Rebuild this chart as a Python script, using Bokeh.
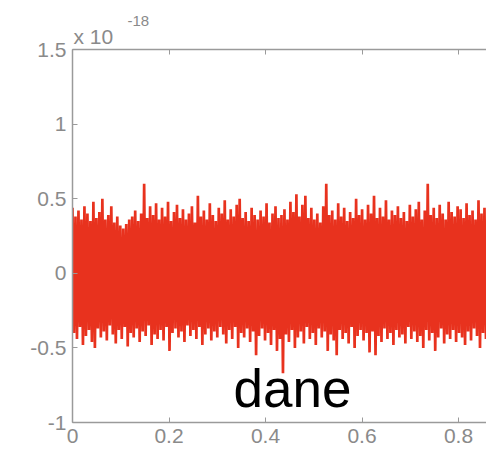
import numpy as np
from bokeh.plotting import figure
from bokeh.models import FixedTicker, LinearAxis, Label, Range1d, Title
from bokeh.embed import file_html
from bokeh.resources import INLINE

# upper peaks of the noisy signal (units of 1e-18)
peaks = [0.44, 0.38, 0.42, 0.36, 0.45, 0.40, 0.35, 0.48, 0.37, 0.41,
         0.50, 0.36, 0.39, 0.45, 0.34, 0.38, 0.32, 0.30, 0.33, 0.36,
         0.38, 0.42, 0.35, 0.40, 0.60, 0.37, 0.45, 0.39, 0.47, 0.36,
         0.44, 0.38, 0.48, 0.35, 0.41, 0.46, 0.37, 0.43, 0.36, 0.40,
         0.45, 0.34, 0.52, 0.38, 0.42, 0.36, 0.47, 0.39, 0.35, 0.44,
         0.40, 0.49, 0.36, 0.43, 0.38, 0.46, 0.50, 0.37, 0.41, 0.35,
         0.44, 0.39, 0.36, 0.42, 0.38, 0.47, 0.34, 0.40, 0.45, 0.37,
         0.39, 0.43, 0.36, 0.48, 0.41, 0.53, 0.38, 0.46, 0.52, 0.37,
         0.44, 0.36, 0.40, 0.34, 0.45, 0.60, 0.39, 0.42, 0.36, 0.47,
         0.38, 0.44, 0.35, 0.41, 0.37, 0.50, 0.39, 0.43, 0.36, 0.46,
         0.40, 0.52, 0.37, 0.44, 0.38, 0.49, 0.36, 0.42, 0.39, 0.45,
         0.37, 0.41, 0.35, 0.46, 0.38, 0.43, 0.48, 0.36, 0.42, 0.60,
         0.39, 0.44, 0.37, 0.46, 0.40, 0.36, 0.48, 0.41, 0.38, 0.45,
         0.43, 0.37, 0.47, 0.39, 0.42, 0.36, 0.49, 0.40, 0.44, 0.38]

# lower troughs of the noisy signal (units of 1e-18)
troughs = [-0.40, -0.44, -0.36, -0.48, -0.42, -0.38, -0.46, -0.50, -0.37, -0.43,
           -0.39, -0.45, -0.35, -0.41, -0.47, -0.38, -0.44, -0.36, -0.49, -0.40,
           -0.43, -0.37, -0.46, -0.39, -0.42, -0.35, -0.48, -0.41, -0.44, -0.38,
           -0.45, -0.36, -0.52, -0.40, -0.37, -0.43, -0.39, -0.46, -0.35, -0.42,
           -0.38, -0.44, -0.36, -0.48, -0.41, -0.37, -0.45, -0.39, -0.43, -0.36,
           -0.41, -0.47, -0.38, -0.44, -0.36, -0.50, -0.40, -0.43, -0.37, -0.46,
           -0.39, -0.55, -0.42, -0.37, -0.45, -0.40, -0.48, -0.38, -0.52, -0.44,
           -0.67, -0.41, -0.46, -0.38, -0.50, -0.43, -0.39, -0.47, -0.36, -0.44,
           -0.40, -0.48, -0.37, -0.43, -0.39, -0.52, -0.41, -0.45, -0.55, -0.38,
           -0.44, -0.40, -0.47, -0.36, -0.50, -0.42, -0.38, -0.45, -0.40, -0.53,
           -0.39, -0.55, -0.42, -0.46, -0.37, -0.44, -0.40, -0.48, -0.38, -0.43,
           -0.41, -0.47, -0.36, -0.44, -0.39, -0.46, -0.42, -0.50, -0.38, -0.45,
           -0.40, -0.52, -0.43, -0.37, -0.47, -0.41, -0.44, -0.38, -0.46, -0.40,
           -0.43, -0.48, -0.39, -0.45, -0.37, -0.42, -0.50, -0.40, -0.44, -0.38]

x_start, x_stop = 0.0, 0.86
x_ticks = [0, 0.2, 0.4, 0.6, 0.8]
x_tick_labels = ["0", "0.2", "0.4", "0.6", "0.8"]
y_ticks = [-1, -0.5, 0, 0.5, 1, 1.5]
y_tick_labels = ["-1", "-0.5", "0", "0.5", "1", "1.5"]
exponent_text = "x 10"
exponent_power = "-18"
annotation_text = "dane"

n = len(peaks)
xp = np.linspace(x_start, x_stop, n)
dx = xp[1] - xp[0]
xt = xp + dx / 2
xs = np.empty(2 * n)
ys = np.empty(2 * n)
xs[0::2] = xp
xs[1::2] = xt
ys[0::2] = peaks
ys[1::2] = troughs

AX = "#9a9a9a"
LAB = "#8a8a8a"
FONT = "Liberation Sans"

p = figure(width=486, height=456, output_backend="svg", toolbar_location=None,
           x_range=Range1d(0, 0.858), y_range=Range1d(-1, 1.5),
           min_border_left=72, min_border_right=0, min_border_top=49,
           min_border_bottom=34, background_fill_color="white",
           border_fill_color="white", outline_line_color=None)
p.grid.visible = False

p.line(xs, ys, line_color="#e8321e", line_width=2.7)

for ax in (p.xaxis[0], p.yaxis[0]):
    ax.axis_line_color = AX
    ax.axis_line_width = 1.5
    ax.major_tick_line_color = AX
    ax.major_tick_in = 5
    ax.major_tick_out = 0
    ax.minor_tick_line_color = None
    ax.major_label_text_color = LAB
    ax.major_label_text_font = FONT
    ax.major_label_text_font_size = "21px"

p.xaxis[0].ticker = FixedTicker(ticks=x_ticks)
p.xaxis[0].major_label_overrides = dict(zip(x_ticks, x_tick_labels))
p.xaxis[0].major_label_standoff = 6
p.yaxis[0].ticker = FixedTicker(ticks=y_ticks)
p.yaxis[0].major_label_overrides = dict(zip(y_ticks, y_tick_labels))
p.yaxis[0].major_label_standoff = 6

top = LinearAxis(ticker=FixedTicker(ticks=x_ticks), axis_line_color=AX,
                 axis_line_width=1.5, major_tick_line_color=AX,
                 major_tick_in=5, major_tick_out=0, minor_tick_line_color=None,
                 major_label_overrides={t: "" for t in x_ticks},
                 major_label_text_font_size="1px", major_label_standoff=0)
p.add_layout(top, "above")

p.add_layout(Title(text=exponent_text, align="left", offset=1, standoff=4,
                   text_color=LAB, text_font=FONT, text_font_size="21px",
                   text_font_style="normal"), "above")
p.add_layout(Title(text=exponent_power, align="left", offset=55, standoff=-10,
                   text_color=LAB, text_font=FONT, text_font_size="15px",
                   text_font_style="normal"), "above")

p.add_layout(Label(x=0.456, y=-0.77, text=annotation_text, text_color="black",
                   text_font=FONT, text_font_size="53px", text_align="center",
                   text_baseline="alphabetic"))

open("out.html", "w").write(file_html(p, INLINE))
